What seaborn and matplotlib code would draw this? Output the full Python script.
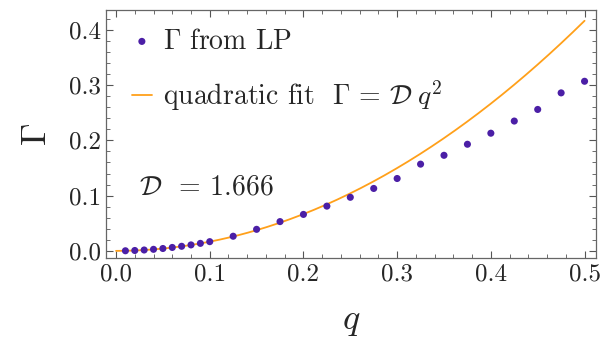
import numpy as np
import pandas as pd
import matplotlib
matplotlib.use("Agg")
import matplotlib.pyplot as plt
import seaborn as sns
from matplotlib.ticker import MultipleLocator

# %% data
q_lp = [0.01, 0.02, 0.03, 0.04, 0.05, 0.06, 0.07, 0.08, 0.09, 0.10,
        0.125, 0.15, 0.175, 0.20, 0.225, 0.25, 0.275, 0.30, 0.325, 0.35,
        0.375, 0.40, 0.425, 0.45, 0.475, 0.50]
gamma_lp = [0.0002, 0.0007, 0.0016, 0.0028, 0.0043, 0.0062, 0.0083, 0.0108, 0.0136, 0.0167,
            0.0265, 0.0390, 0.0530, 0.0660, 0.0810, 0.0970, 0.1130, 0.1310, 0.1570, 0.1730,
            0.1930, 0.2130, 0.2350, 0.2560, 0.2860, 0.3070]
D_fit = 1.666

dfpts = pd.DataFrame({"q": q_lp, "gamma": gamma_lp})
qq = np.linspace(0, 0.5, 200)
dffit = pd.DataFrame({"q": qq, "gamma": D_fit * qq**2})

# %%
sns.set_theme(style="ticks")
plt.rcParams["font.family"] = ["cmr10", "DejaVu Serif"]
plt.rcParams["mathtext.fontset"] = "cm"
plt.rcParams["axes.formatter.use_mathtext"] = True

pt_color = "#4b1fa6"
fit_color = "#ffa01a"

fig, ax = plt.subplots(figsize=(6, 3.45), dpi=100)
fig.subplots_adjust(left=0.177, right=0.993, bottom=0.252, top=0.971)

sns.lineplot(data=dffit, x="q", y="gamma", color=fit_color, lw=1.3, ax=ax,
             label=r"quadratic fit  $\Gamma\,=\,\mathcal{D}\;q^2$")
sns.scatterplot(data=dfpts, x="q", y="gamma", color=pt_color, s=26, edgecolor="none",
                ax=ax, label=r"$\Gamma$ from LP", zorder=3)

ax.set_xlim(-0.0105, 0.512)
ax.set_ylim(-0.013, 0.436)
ax.xaxis.set_major_locator(MultipleLocator(0.1))
ax.xaxis.set_minor_locator(MultipleLocator(0.02))
ax.yaxis.set_major_locator(MultipleLocator(0.1))
ax.yaxis.set_minor_locator(MultipleLocator(0.02))
ax.xaxis.set_major_formatter(lambda v, p: f"{v:.1f}")
ax.yaxis.set_major_formatter(lambda v, p: f"{v:.1f}")
ax.tick_params(which="both", direction="in", top=True, right=True, color="#555555")
ax.tick_params(which="major", length=5, width=0.8, labelsize=18)
ax.tick_params(which="minor", length=3, width=0.6)
for sp in ax.spines.values():
    sp.set_color("#666666")
    sp.set_linewidth(0.9)

ax.set_xlabel(r"$q$", fontsize=26, labelpad=15)
ax.set_ylabel(r"$\Gamma$", fontsize=26, labelpad=12, rotation=90)

h, l = ax.get_legend_handles_labels()
ax.legend(h[::-1], l[::-1], loc="upper left", frameon=False, fontsize=20,
          handlelength=0.7, handletextpad=0.4, labelspacing=0.86,
          bbox_to_anchor=(0.053, 0.926), borderaxespad=0, borderpad=0)

ax.text(0.0245, 0.115, r"$\mathcal{D}$  = 1.666", fontsize=20, va="center")

fig.savefig("out.png", dpi=100)
